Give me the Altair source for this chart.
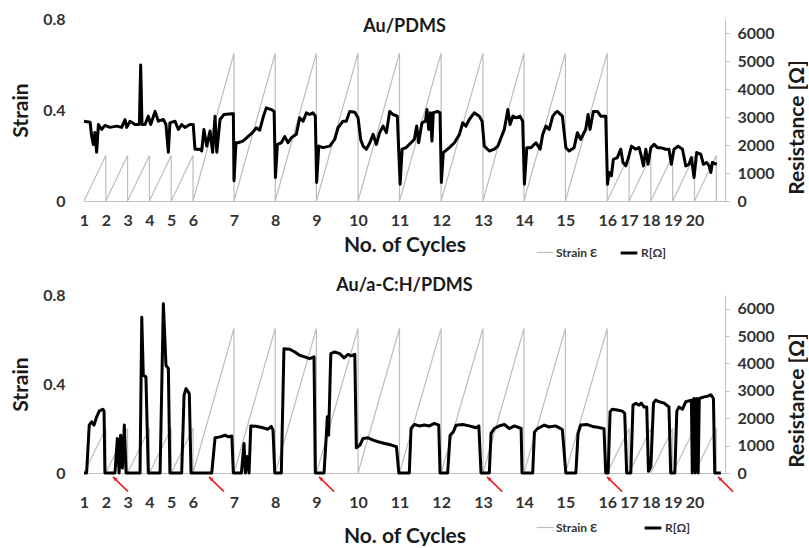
import json
import altair as alt
import pandas as pd

# ---------------- data ----------------
cycle_start = [0, 1, 2, 3, 4, 5, 6.88, 8.77, 10.66, 12.57, 14.47, 16.38, 18.3,
               20.18, 22.08, 24.0, 25.0, 26.0, 27.0, 28.0]
cycle_last_end = 29.0
strain_peak = [0.2, 0.2, 0.2, 0.2, 0.2,
               0.65, 0.65, 0.65, 0.65, 0.65, 0.65, 0.65, 0.65, 0.65, 0.65,
               0.2, 0.2, 0.2, 0.2, 0.2]

top_t = [0.0, 0.28, 0.35, 0.43, 0.50, 0.58, 0.66, 0.81, 0.96, 1.19,
         1.50, 1.73, 1.88, 1.96, 2.11, 2.34, 2.54, 2.60, 2.66, 2.80,
         2.95, 3.06, 3.26, 3.41, 3.64, 3.76, 3.87, 3.94, 4.17, 4.33,
         4.48, 4.63, 4.86, 5.01, 5.09, 5.32, 5.40, 5.50, 5.63, 5.78,
         5.90, 6.01, 6.09, 6.24, 6.36, 6.42, 6.78, 6.85, 6.88, 6.97,
         7.06, 7.29, 7.52, 7.75, 7.90, 8.06, 8.21, 8.36, 8.59, 8.72,
         8.78, 8.87, 9.05, 9.21, 9.36, 9.51, 9.74, 9.89, 10.05, 10.20,
         10.35, 10.50, 10.61, 10.67, 10.77, 10.96, 11.27, 11.50, 11.65, 11.88,
         12.03, 12.19, 12.42, 12.57, 12.69, 12.80, 12.95, 13.11, 13.26, 13.41,
         13.56, 13.72, 13.87, 14.02, 14.17, 14.37, 14.50, 14.59, 14.77, 15.00,
         15.15, 15.26, 15.35, 15.50, 15.66, 15.73, 15.81, 15.89, 15.96, 16.02,
         16.22, 16.33, 16.39, 16.48, 16.76, 16.99, 17.22, 17.37, 17.52, 17.67,
         17.90, 18.13, 18.26, 18.36, 18.59, 18.82, 18.98, 19.13, 19.28, 19.44,
         19.54, 19.67, 19.82, 20.00, 20.12, 20.20, 20.31, 20.50, 20.73, 20.92,
         21.04, 21.19, 21.34, 21.50, 21.62, 21.71, 21.94, 22.10, 22.25, 22.48,
         22.63, 22.78, 23.01, 23.12, 23.21, 23.36, 23.55, 23.70, 23.93, 24.01,
         24.08, 24.19, 24.28, 24.46, 24.62, 24.72, 24.85, 24.95, 25.11, 25.31,
         25.46, 25.56, 25.66, 25.77, 25.87, 26.00, 26.15, 26.30, 26.45, 26.68,
         26.83, 26.94, 27.06, 27.25, 27.45, 27.60, 27.75, 27.86, 27.98, 28.10,
         28.29, 28.41, 28.56, 28.67, 28.75, 28.82, 29.02]
top_R = [2850, 2815, 2320, 2020, 2450, 1740, 2730, 2555, 2700, 2630,
         2675, 2630, 2910, 2630, 2850, 2730, 2730, 4860, 2730, 2730,
         3030, 2730, 3200, 2850, 2910, 2730, 1740, 2790, 2850, 2555,
         2730, 2630, 2730, 2730, 1850, 1850, 1790, 2555, 1960, 2500,
         1740, 3030, 1740, 2910, 3030, 3090, 3120, 3120, 720, 2080,
         2080, 2140, 2300, 2460, 2615, 2530, 2970, 3325, 3265, 3200,
         840, 2020, 2080, 2300, 2080, 2260, 2380, 2970, 2850, 3150,
         3090, 3150, 3030, 665, 1960, 1905, 1960, 2200, 2615, 2850,
         2850, 3200, 3170, 2970, 2200, 1960, 1850, 2080, 2380, 2020,
         2440, 2675, 2440, 3200, 3090, 3030, 600, 1850, 1905, 2080,
         2200, 2675, 2080, 2790, 2850, 3265, 2555, 3150, 2140, 3150,
         3200, 3150, 665, 1730, 1905, 2080, 2380, 2790, 2675, 2910,
         3150, 3030, 2850, 1960, 1785, 1850, 1960, 2260, 2555, 3265,
         2730, 3030, 2970, 3030, 2850, 600, 1905, 1905, 2080, 1850,
         2380, 2675, 2555, 3030, 3150, 3200, 3030, 1905, 1785, 1905,
         2440, 2200, 2555, 3090, 2555, 3200, 3200, 3030, 3030, 600,
         1020, 900, 1490, 1550, 1850, 1375, 1255, 1490, 1960, 1850,
         1905, 1610, 1255, 1850, 1310, 1905, 2020, 1905, 1905, 1850,
         1850, 1310, 1850, 1960, 1850, 1255, 1310, 1550, 840, 1730,
         1670, 1310, 1375, 1255, 1020, 1375, 1310]

bot_t = [0.0, 0.12, 0.24, 0.35, 0.46, 0.58, 0.70, 0.86, 0.92, 0.96,
         1.42, 1.53, 1.61, 1.68, 1.76, 1.85, 1.93, 2.57, 2.65, 2.72,
         2.84, 2.95, 3.49, 3.64, 3.76, 3.87, 3.94, 4.48, 4.59, 4.68,
         4.83, 4.91, 5.86, 6.01, 6.24, 6.47, 6.62, 6.78, 6.85, 7.22,
         7.34, 7.40, 7.49, 7.57, 7.65, 7.90, 8.21, 8.44, 8.59, 8.67,
         8.75, 9.05, 9.17, 9.44, 9.67, 9.89, 10.12, 10.35, 10.55, 10.61,
         11.01, 11.11, 11.16, 11.22, 11.32, 11.50, 11.73, 11.93, 12.11, 12.26,
         12.42, 12.49, 12.65, 12.80, 13.03, 13.26, 13.49, 13.79, 14.10, 14.33,
         14.44, 14.92, 15.00, 15.15, 15.38, 15.61, 15.84, 16.07, 16.27, 16.33,
         16.68, 16.79, 16.94, 17.06, 17.37, 17.67, 17.98, 18.11, 18.21, 18.59,
         18.67, 18.82, 19.05, 19.28, 19.51, 19.74, 20.05, 20.09, 20.58, 20.66,
         20.81, 21.11, 21.34, 21.62, 21.87, 21.94, 22.10, 22.56, 22.66, 22.78,
         23.09, 23.32, 23.55, 23.85, 23.93, 24.04, 24.13, 24.23, 24.46, 24.69,
         24.80, 24.89, 25.08, 25.18, 25.31, 25.46, 25.56, 25.69, 25.81, 25.89,
         26.00, 26.12, 26.22, 26.38, 26.61, 26.83, 26.91, 27.10, 27.19, 27.29,
         27.45, 27.60, 27.86, 27.90, 27.98, 28.03, 28.10, 28.17, 28.22, 28.44,
         28.59, 28.75, 28.87, 28.93, 29.21]
bot_R = [0, 0, 1750, 1870, 1750, 2050, 2260, 2330, 2260, 0,
         0, 1260, 0, 1380, 180, 1750, 0, 0, 5690, 3570,
         3510, 0, 0, 6180, 3930, 3810, 0, 0, 2840, 3080,
         2900, 0, 0, 1285, 1320, 1380, 1320, 1350, 0, 0,
         1080, 0, 600, 0, 1720, 1710, 1650, 1600, 1700, 1565,
         0, 0, 4540, 4520, 4420, 4300, 4240, 4175, 4240, 0,
         0, 1320, 2050, 1380, 4360, 4420, 4360, 4200, 4330, 4280,
         4330, 920, 1010, 1260, 1285, 1200, 1140, 1080, 1020, 960,
         0, 0, 1625, 1770, 1720, 1750, 1720, 1810, 1750, 0,
         0, 1380, 1500, 1740, 1770, 1720, 1650, 1720, 0, 0,
         1445, 1625, 1720, 1770, 1625, 1720, 1625, 0, 0, 1500,
         1625, 1750, 1680, 1720, 1620, 1580, 0, 0, 1445, 1750,
         1770, 1700, 1670, 1620, 0, 0, 2230, 2330, 2300, 2260,
         2180, 0, 0, 2475, 2550, 2475, 2550, 2410, 2410, 60,
         230, 2550, 2660, 2600, 2550, 2410, 0, 0, 2260, 2410,
         2330, 2600, 2660, 0, 2720, 0, 2720, 0, 2720, 2780,
         2800, 2860, 2720, 0, 0]

# red arrows under the lower panel (tip and tail, in cycle-time / ohm units)
arrow_tip_t = [1.33, 5.73, 10.78, 18.49, 23.99, 29.08]
arrow_tail_t = [2.02, 6.42, 11.47, 19.18, 24.68, 29.77]
arrow_tip_R = [-140, -140, -140, -140, -140, -140]
arrow_tail_R = [-680, -680, -680, -680, -680, -680]

series_names = ["Strain \u0190", "R[\u03a9]"]
panel_titles = ["Au/PDMS", "Au/a-C:H/PDMS"]

# ---------------- tables ----------------
ends = cycle_start[1:] + [cycle_last_end]
rows = []
k = 0
for s, e, p in zip(cycle_start, ends, strain_peak):
    for t, v in ((s, 0.0), (e, p), (e, 0.0)):
        rows.append({"t": t, "v": v, "idx": k, "series": series_names[0]})
        k += 1
df_strain = pd.DataFrame(rows)


def r_frame(ts, rs):
    d = pd.DataFrame({"t": ts, "R": rs})
    d["idx"] = range(len(d))
    d["series"] = series_names[1]
    return d


df_top = r_frame(top_t, top_R)
df_bot = r_frame(bot_t, bot_R)
df_arrows = pd.DataFrame({"t": arrow_tip_t, "t2": arrow_tail_t,
                          "r": arrow_tip_R, "r2": arrow_tail_R})

# ---------------- styling ----------------
FONT = "Lato"
LBL = "#333333"
TTL = "#1a1a1a"

label_expr = "'' + (indexof(" + json.dumps(cycle_start) + ", datum.value) + 1)"
xscale = alt.Scale(domain=[0, 29.4], nice=False, zero=False)
sscale = alt.Scale(domain=[0, 0.8], nice=False)
rscale = alt.Scale(domain=[0, 6500], nice=False)
color_scale = alt.Scale(domain=series_names, range=["#bdbdbd", "#000000"])
sw_scale = alt.Scale(domain=series_names, range=[1.2, 3])


def x_axis(label_pad, title_pad):
    return alt.Axis(values=cycle_start, labelExpr=label_expr, title="No. of Cycles",
                    grid=False, ticks=False, tickSize=0, domainColor="#bfbfbf",
                    labelFlush=False, labelOverlap=False, labelBound=False,
                    labelPadding=label_pad, titlePadding=title_pad,
                    labelFont=FONT, labelFontSize=16, labelFontWeight="bold",
                    labelColor=LBL, titleFont=FONT, titleFontSize=21,
                    titleFontWeight="bold", titleColor=TTL)


left_axis = alt.Axis(values=[0, 0.4, 0.8], format=".1~f", title="Strain",
                     grid=False, domain=False, ticks=False, tickSize=0,
                     labelPadding=19, labelFlush=False, labelFont=FONT,
                     labelFontSize=16, labelFontWeight="bold", labelColor=LBL,
                     titleFont=FONT, titleFontSize=21, titleFontWeight="bold",
                     titleColor=TTL, titlePadding=11)


def right_axis(title_y):
    return alt.Axis(orient="right", values=[0, 1000, 2000, 3000, 4000, 5000, 6000],
                    format="d",
                    title="Resistance [\u03a9]", grid=False, domainColor="#bfbfbf",
                    tickColor="#bfbfbf", tickSize=4, labelPadding=8,
                    labelFlush=False, labelFont=FONT, labelFontSize=16,
                    labelFontWeight="bold", labelColor=LBL, titleFont=FONT,
                    titleFontSize=21, titleFontWeight="bold", titleColor=TTL,
                    titleAngle=270, titleBaseline="top", titlePadding=12,
                    titleY=title_y)


def legend(ly, colpad):
    return alt.Legend(orient="none", legendX=452, legendY=ly, direction="horizontal",
                      title=None, symbolType="stroke", symbolSize=280,
                      labelFont=FONT, labelFontSize=12, labelFontWeight="bold",
                      labelColor=LBL, labelOffset=2, columnPadding=colpad)


def panel(df_r, title, height, title_off, lab_pad, ttl_pad, ly, colpad, title_y,
          arrows=False):
    xa = x_axis(lab_pad, ttl_pad)
    lg = legend(ly, colpad)
    ra = right_axis(title_y)
    strain = alt.Chart(df_strain).mark_line().encode(
        x=alt.X("t:Q", scale=xscale, axis=xa),
        y=alt.Y("v:Q", scale=sscale, axis=left_axis),
        order="idx:Q",
        color=alt.Color("series:N", scale=color_scale, legend=lg),
        strokeWidth=alt.StrokeWidth("series:N", scale=sw_scale, legend=lg),
    )
    rline = alt.Chart(df_r).mark_line(strokeJoin="round").encode(
        x=alt.X("t:Q", scale=xscale, axis=xa),
        y=alt.Y("R:Q", scale=rscale, axis=ra),
        order="idx:Q",
        color=alt.Color("series:N", scale=color_scale, legend=lg),
        strokeWidth=alt.StrokeWidth("series:N", scale=sw_scale, legend=lg),
    )
    right_layers = [rline]
    if arrows:
        rules = alt.Chart(df_arrows).mark_rule(color="#e8202a", strokeWidth=1.6).encode(
            x=alt.X("t:Q", scale=xscale, axis=xa),
            x2="t2:Q",
            y=alt.Y("r:Q", scale=rscale, axis=ra),
            y2="r2:Q",
        )
        heads = alt.Chart(df_arrows).mark_point(
            shape="M0,0L-0.55,1.3L0.55,1.3Z", filled=True, size=45,
            angle=315, color="#e8202a", opacity=1).encode(
            x=alt.X("t:Q", scale=xscale, axis=xa),
            y=alt.Y("r:Q", scale=rscale, axis=ra),
        )
        right_layers += [rules, heads]
    right = alt.layer(*right_layers)
    return alt.layer(strain, right).resolve_scale(y="independent").properties(
        width=641, height=height,
        title=alt.TitleParams(title, font=FONT, fontSize=18, fontWeight="bold",
                              color=TTL, anchor="middle", offset=title_off,
                              baseline="alphabetic", frame="group"),
    )


top = panel(df_top, panel_titles[0], 182, -39, 11, 6, 224, 16, 108)
bottom = panel(df_bot, panel_titles[1], 178, -22, 21, 15, 223, 40, 105, arrows=True)

chart = alt.vconcat(top, bottom, spacing=18).resolve_scale(
    color="independent", strokeWidth="independent"
).resolve_legend(color="independent", strokeWidth="independent").properties(
    padding={"left": 10, "top": 11, "right": 0, "bottom": 0},
    background="white",
).configure_view(stroke=None)

chart.save("out.html", embed_options={"renderer": "svg", "actions": False})
